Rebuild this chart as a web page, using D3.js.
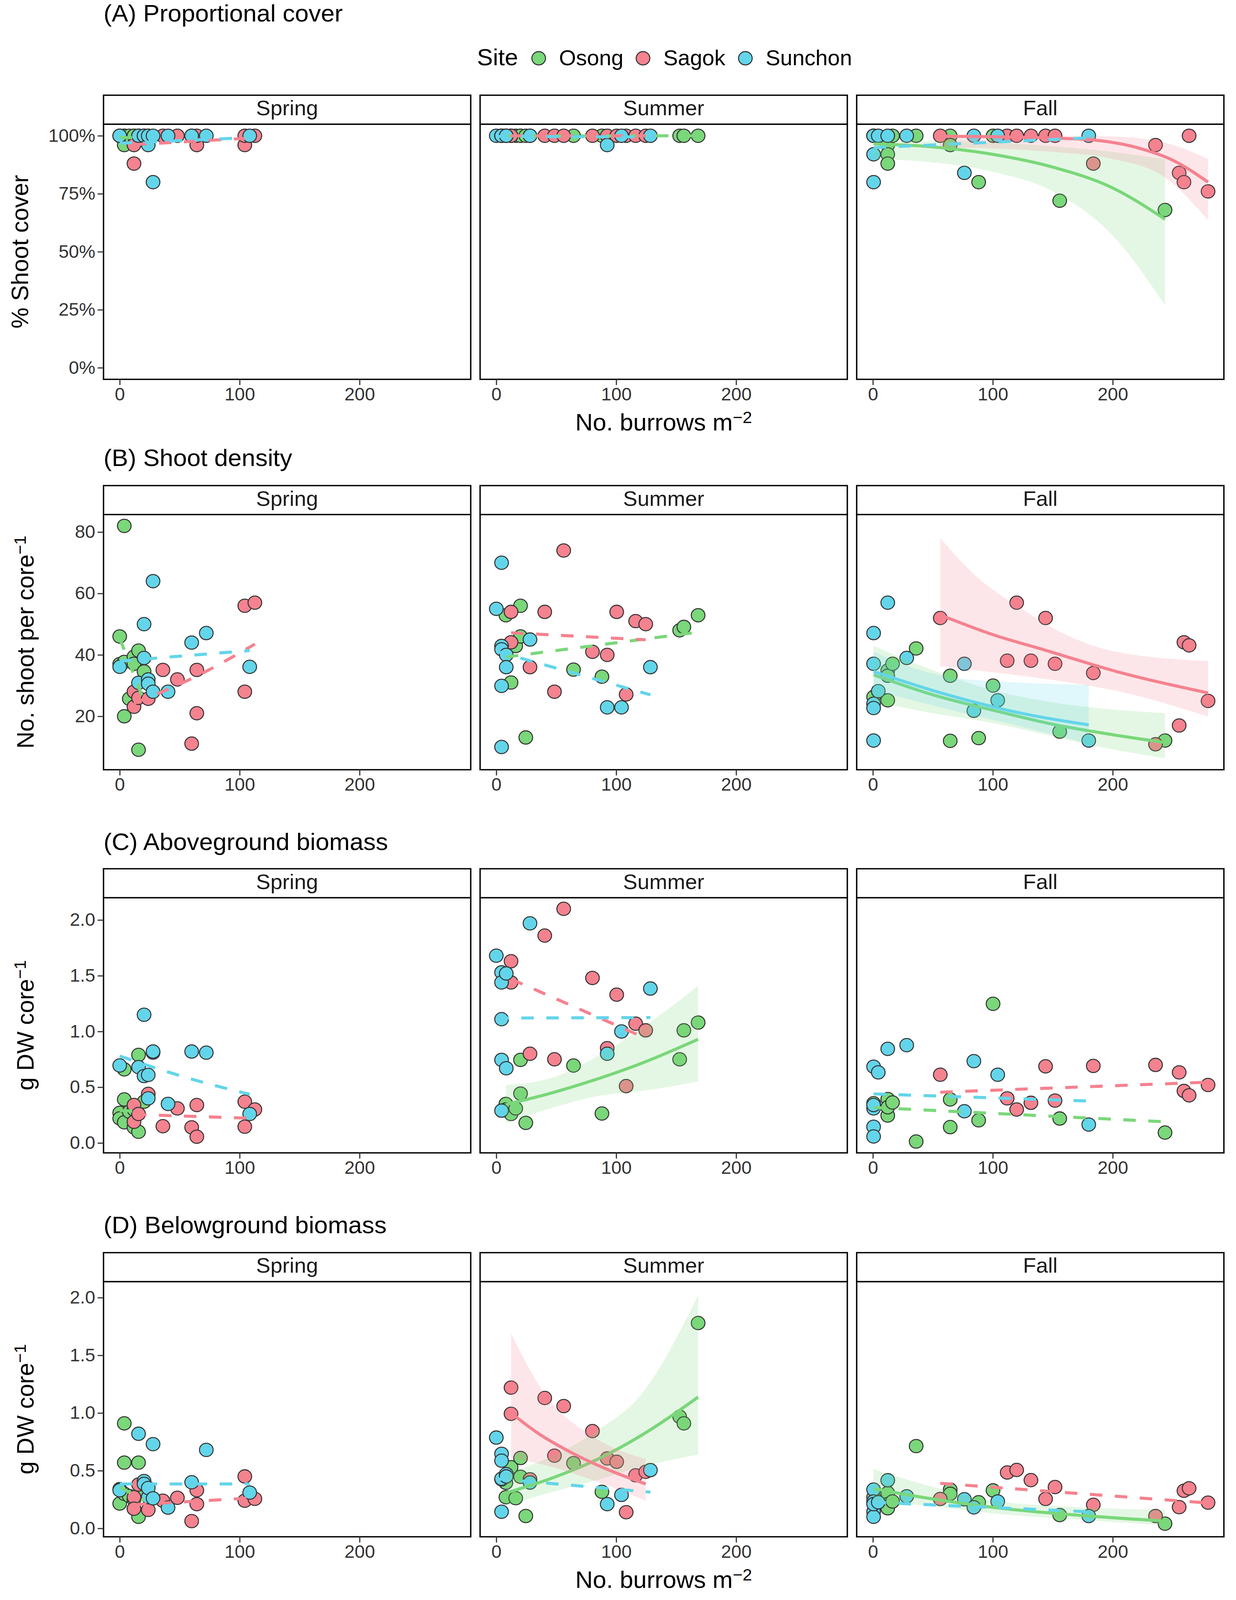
<!DOCTYPE html>
<html><head><meta charset="utf-8">
<script src="https://cdn.jsdelivr.net/npm/d3@7"></script>
<style>html,body{margin:0;padding:0;background:#fff;overflow:hidden} svg{display:block;width:100vw;height:100vh} text{font-family:"Liberation Sans",Arial,Helvetica,sans-serif}</style>
</head><body><svg id="chart" viewBox="0 0 3164 4201" preserveAspectRatio="none"></svg>
<script>
// ---------------- DATA ----------------
const seasons = ["Spring", "Summer", "Fall"];
const sites = ["Osong", "Sagok", "Sunchon"];
const rowTitles = ["(A) Proportional cover", "(B) Shoot density", "(C) Aboveground biomass", "(D) Belowground biomass"];
const burrowTicks = [0, 100, 200];
const coverTicks = [0, 0.25, 0.5, 0.75, 1];
const densityTicks = [20, 40, 60, 80];
const biomassTicks = [0, 0.5, 1, 1.5, 2];

// burrow densities (x) per season and site
const burrowsSpringOsong = [0, 0, 3.8, 3.8, 3.8, 8, 11.9, 11.9, 15.7, 15.7, 20.3];
const burrowsSpringSagok = [11.9, 11.9, 15.7, 23.8, 36, 48.1, 60, 64.3, 64.3, 104.3, 104.3, 112.7];
const burrowsSpringSunchon = [0, 15.7, 20.3, 20.3, 23.8, 23.8, 27.8, 27.8, 40.3, 60, 72.2, 108.4];
const burrowsSummerOsong = [8, 8, 12.3, 16.2, 20.2, 20.2, 24.6, 64.4, 88.1, 152.9, 156.4, 168.3];
const burrowsSummerSagok = [12.3, 12.3, 28.1, 40.4, 48.5, 56.2, 80.2, 92.5, 100.4, 108.3, 116.2, 124.6];
const burrowsSummerSunchon = [0, 4.4, 4.4, 4.4, 4.4, 4.4, 8.3, 8.3, 28.1, 92.5, 104.4, 128.5];
const burrowsFallOsong = [0.6, 12.4, 12.4, 12.4, 16.4, 36.1, 64.5, 64.5, 88.2, 100.2, 155.8, 243.6];
const burrowsFallSagok = [56.2, 112, 119.9, 131.8, 144, 151.9, 183.8, 235.7, 255.4, 259.4, 263.7, 279.5];
const burrowsFallSunchon = [0.6, 0.6, 0.6, 0.6, 0.6, 4.5, 12.4, 28.2, 76.3, 84.2, 104.1, 180];

// (A) proportional cover
const coverSpringOsong = [1, 1, 0.96, 1, 1, 1, 1, 1, 1, 1, 1];
const coverSpringSagok = [0.88, 0.96, 1, 1, 1, 1, 1, 0.96, 1, 0.96, 1, 1];
const coverSpringSunchon = [1, 1, 1, 1, 0.96, 1, 0.80, 1, 1, 1, 1, 1];
const coverSummerOsong = [1, 1, 1, 1, 1, 1, 1, 1, 1, 1, 1, 1];
const coverSummerSagok = [1, 1, 1, 1, 1, 1, 1, 1, 1, 1, 1, 1];
const coverSummerSunchon = [1, 1, 1, 1, 1, 1, 1, 1, 1, 0.96, 1, 1];
const coverFallOsong = [1, 0.96, 0.92, 0.88, 1, 1, 1, 0.96, 0.80, 1, 0.72, 0.68];
const coverFallSagok = [1, 1, 1, 1, 1, 1, 0.88, 0.96, 0.84, 0.80, 1, 0.76];
const coverFallSunchon = [1, 1, 1, 0.92, 0.80, 1, 1, 1, 0.84, 1, 1, 1];

// (B) shoot density
const densitySpringOsong = [46, 37, 82, 37.7, 20, 25.7, 39.4, 37.1, 41.4, 9.1, 34.6];
const densitySpringSagok = [28, 23.1, 26, 25.7, 35.1, 32, 11.1, 35.1, 21, 56, 28, 57];
const densitySpringSunchon = [36.1, 30.9, 50, 39, 32, 30.6, 64, 28, 28, 44, 47.1, 36.1];
const densitySummerOsong = [52.9, 42, 31, 42.9, 56, 46, 13.1, 35.2, 32.9, 48, 49.1, 52.9];
const densitySummerSagok = [54, 44.1, 36, 54, 28, 74, 41, 40, 54, 27.1, 51, 50];
const densitySummerSunchon = [55, 70, 42.9, 41.8, 29.9, 10, 40, 36, 45, 22.9, 22.9, 36];
const densityFallOsong = [26.3, 34.9, 33.2, 25.2, 37.1, 42.1, 33.2, 12.0, 12.9, 30.0, 15.0, 12.1];
const densityFallSagok = [52, 38.1, 57, 38.1, 52, 37.1, 34.1, 10.9, 17, 44.1, 43.1, 25];
const densityFallSunchon = [47.1, 37.1, 24.1, 22.7, 12.1, 28.2, 57, 39, 37.1, 21.8, 25.2, 12.1];

// (C) aboveground biomass
const aboveSpringOsong = [0.27, 0.22, 0.66, 0.39, 0.185, 0.28, 0.14, 0.30, 0.79, 0.10, 0.37];
const aboveSpringSagok = [0.34, 0.19, 0.26, 0.44, 0.15, 0.31, 0.14, 0.34, 0.056, 0.37, 0.146, 0.30];
const aboveSpringSunchon = [0.695, 0.68, 1.15, 0.60, 0.61, 0.40, 0.81, 0.82, 0.35, 0.82, 0.81, 0.26];
const aboveSummerOsong = [0.35, 0.30, 0.26, 0.31, 0.745, 0.443, 0.18, 0.694, 0.264, 0.75, 1.01, 1.08];
const aboveSummerSagok = [1.63, 1.44, 0.80, 1.86, 0.75, 2.10, 1.48, 0.85, 1.33, 0.51, 1.07, 1.01];
const aboveSummerSunchon = [1.68, 1.53, 1.44, 1.11, 0.745, 0.29, 1.52, 0.67, 1.97, 0.80, 1.0, 1.385];
const aboveFallOsong = [0.356, 0.394, 0.246, 0.32, 0.363, 0.013, 0.39, 0.142, 0.203, 1.248, 0.219, 0.093];
const aboveFallSagok = [0.612, 0.40, 0.30, 0.36, 0.687, 0.38, 0.691, 0.70, 0.633, 0.466, 0.427, 0.52];
const aboveFallSunchon = [0.684, 0.31, 0.145, 0.058, 0.34, 0.633, 0.844, 0.877, 0.284, 0.734, 0.612, 0.165];

// (D) belowground biomass
const belowSpringOsong = [0.34, 0.215, 0.91, 0.57, 0.30, 0.28, 0.17, 0.25, 0.57, 0.10, 0.30];
const belowSpringSagok = [0.27, 0.17, 0.38, 0.16, 0.24, 0.265, 0.063, 0.33, 0.21, 0.45, 0.24, 0.256];
const belowSpringSunchon = [0.33, 0.82, 0.41, 0.385, 0.27, 0.35, 0.73, 0.26, 0.18, 0.40, 0.68, 0.31];
const belowSummerOsong = [0.395, 0.27, 0.53, 0.262, 0.61, 0.447, 0.107, 0.565, 0.317, 0.968, 0.91, 1.78];
const belowSummerSagok = [1.22, 0.993, 0.425, 1.13, 0.63, 1.06, 0.843, 0.606, 0.577, 0.14, 0.46, 0.49];
const belowSummerSunchon = [0.787, 0.646, 0.587, 0.425, 0.43, 0.144, 0.47, 0.45, 0.397, 0.21, 0.29, 0.505];
const belowFallOsong = [0.27, 0.307, 0.21, 0.174, 0.233, 0.713, 0.336, 0.30, 0.226, 0.329, 0.115, 0.041];
const belowFallSagok = [0.255, 0.484, 0.506, 0.418, 0.255, 0.358, 0.204, 0.107, 0.184, 0.326, 0.347, 0.223];
const belowFallSunchon = [0.336, 0.233, 0.144, 0.10, 0.21, 0.226, 0.417, 0.278, 0.252, 0.182, 0.233, 0.107];

// fitted trend lines [x, y] and confidence bands [x, lower, upper]
const fitCoverSpringOsong = [[0, 0.993], [20.3, 0.99]];
const fitCoverSpringSagok = [[11.9, 0.962], [112.7, 0.991]];
const fitCoverSpringSunchon = [[0, 0.968], [108.4, 0.992]];
const fitCoverSummerOsong = [[8, 0.999], [168.3, 1.0]];
const fitCoverSummerSagok = [[12.3, 1.0], [124.6, 1.0]];
const fitCoverSummerSunchon = [[0, 0.997], [128.5, 0.995]];
const fitCoverFallOsong = [[0.6, 0.965], [50, 0.952], [100, 0.92], [150, 0.865], [200, 0.775], [243.6, 0.64]];
const bandCoverFallOsong = [[0.6, 0.90, 0.975], [50, 0.885, 0.978], [100, 0.845, 0.97], [150, 0.76, 0.955], [200, 0.57, 0.93], [243.6, 0.27, 0.898]];
const fitCoverFallSagok = [[56.2, 0.998], [100, 0.996], [150, 0.99], [183, 0.982], [223, 0.945], [250, 0.895], [279.5, 0.80]];
const bandCoverFallSagok = [[56.2, 0.95, 1.0], [100, 0.945, 1.0], [150, 0.93, 1.0], [200, 0.9, 0.997], [243.6, 0.82, 0.97], [279.5, 0.636, 0.90]];
const fitCoverFallSunchon = [[0.6, 0.949], [180, 0.991]];

const fitDensitySpringOsong = [[0, 45.4], [20.3, 25]];
const fitDensitySpringSagok = [[11.9, 24.2], [63.8, 33.0], [112.7, 43.5]];
const fitDensitySpringSunchon = [[0, 38], [108.4, 41.4]];
const fitDensitySummerOsong = [[8, 39.3], [168.3, 47.4]];
const fitDensitySummerSagok = [[12.3, 47.2], [124.6, 44.9]];
const fitDensitySummerSunchon = [[0, 41.2], [128.5, 27.0]];
const fitDensityFallOsong = [[0.6, 33.5], [50, 27], [100, 22], [150, 17.4], [200, 14], [243.6, 11.45]];
const bandDensityFallOsong = [[0.6, 24.9, 43], [50, 21, 35], [100, 17.8, 28.5], [150, 13.5, 24.5], [180, 10.8, 23], [243.6, 6.3, 21]];
const fitDensityFallSagok = [[56.2, 53], [100, 46.6], [144, 41.5], [203, 34.6], [279.5, 27.6]];
const bandDensityFallSagok = [[56.2, 36.3, 78], [85, 35.0, 66], [124, 33.2, 55], [164, 31, 46], [203, 28.3, 41], [279.5, 19.9, 38]];
const fitDensityFallSunchon = [[0.6, 34.6], [50, 28.4], [84.8, 24.6], [130, 20.5], [180, 17.2]];
const bandDensityFallSunchon = [[0.6, 28.5, 41], [40, 24.5, 35], [65, 22, 32.7], [120, 17, 31], [180, 11, 30.2]];

const fitAboveSpringOsong = [[0, 0.29], [20.3, 0.285]];
const fitAboveSpringSagok = [[11.9, 0.256], [112.7, 0.22]];
const fitAboveSpringSunchon = [[0, 0.78], [56, 0.585], [108.4, 0.436]];
const fitAboveSummerOsong = [[8, 0.345], [45, 0.445], [84.6, 0.575], [120, 0.71], [168.3, 0.93]];
const bandAboveSummerOsong = [[8, 0.18, 0.52], [45, 0.31, 0.58], [84.6, 0.42, 0.78], [124, 0.47, 1.05], [168.3, 0.55, 1.41]];
const fitAboveSummerSagok = [[12.3, 1.47], [124.6, 0.94]];
const fitAboveSummerSunchon = [[0, 1.12], [128.5, 1.125]];
const fitAboveFallOsong = [[0.6, 0.318], [243.6, 0.19]];
const fitAboveFallSagok = [[56.2, 0.455], [279.5, 0.545]];
const fitAboveFallSunchon = [[0.6, 0.44], [180, 0.376]];

const fitBelowSpringOsong = [[0, 0.36], [20.3, 0.24]];
const fitBelowSpringSagok = [[11.9, 0.205], [112.7, 0.265]];
const fitBelowSpringSunchon = [[0, 0.385], [108.4, 0.385]];
const fitBelowSummerOsong = [[8, 0.307], [45, 0.43], [84.6, 0.6], [120, 0.8], [168.3, 1.138]];
const bandBelowSummerOsong = [[8, 0.2, 0.47], [45, 0.31, 0.62], [84.6, 0.42, 0.85], [120, 0.53, 1.15], [168.3, 0.64, 2.02]];
const fitBelowSummerSagok = [[12.3, 1.0], [35, 0.823], [64.8, 0.645], [100, 0.48], [124.6, 0.385]];
const bandBelowSummerSagok = [[12.3, 0.61, 1.69], [40, 0.55, 1.17], [80, 0.42, 0.8], [124.6, 0.24, 0.6]];
const fitBelowSummerSunchon = [[0, 0.43], [128.5, 0.314]];
const fitBelowFallOsong = [[0.6, 0.344], [45.4, 0.262], [100.2, 0.182], [180, 0.107], [243.6, 0.063]];
const bandBelowFallOsong = [[0.6, 0.24, 0.513], [50, 0.19, 0.36], [100.2, 0.13, 0.24], [180, 0.07, 0.18], [243.6, 0.026, 0.16]];
const fitBelowFallSagok = [[56.2, 0.39], [279.5, 0.22]];
const fitBelowFallSunchon = [[0.6, 0.226], [180, 0.144]];

// ---------------- tables built from the arrays ----------------
const burrows = {
  Spring: [burrowsSpringOsong, burrowsSpringSagok, burrowsSpringSunchon],
  Summer: [burrowsSummerOsong, burrowsSummerSagok, burrowsSummerSunchon],
  Fall: [burrowsFallOsong, burrowsFallSagok, burrowsFallSunchon]
};
const rows = [
  { values: { Spring: [coverSpringOsong, coverSpringSagok, coverSpringSunchon], Summer: [coverSummerOsong, coverSummerSagok, coverSummerSunchon], Fall: [coverFallOsong, coverFallSagok, coverFallSunchon] },
    fits: { Spring: [fitCoverSpringOsong, fitCoverSpringSagok, fitCoverSpringSunchon], Summer: [fitCoverSummerOsong, fitCoverSummerSagok, fitCoverSummerSunchon], Fall: [fitCoverFallOsong, fitCoverFallSagok, fitCoverFallSunchon] },
    bands: { Spring: [null, null, null], Summer: [null, null, null], Fall: [bandCoverFallOsong, bandCoverFallSagok, null] },
    domain: [-0.05, 1.05], ticks: coverTicks, fmt: d3.format(".0%") },
  { values: { Spring: [densitySpringOsong, densitySpringSagok, densitySpringSunchon], Summer: [densitySummerOsong, densitySummerSagok, densitySummerSunchon], Fall: [densityFallOsong, densityFallSagok, densityFallSunchon] },
    fits: { Spring: [fitDensitySpringOsong, fitDensitySpringSagok, fitDensitySpringSunchon], Summer: [fitDensitySummerOsong, fitDensitySummerSagok, fitDensitySummerSunchon], Fall: [fitDensityFallOsong, fitDensityFallSagok, fitDensityFallSunchon] },
    bands: { Spring: [null, null, null], Summer: [null, null, null], Fall: [bandDensityFallOsong, bandDensityFallSagok, bandDensityFallSunchon] },
    domain: [2.6, 85.7], ticks: densityTicks, fmt: d3.format("d") },
  { values: { Spring: [aboveSpringOsong, aboveSpringSagok, aboveSpringSunchon], Summer: [aboveSummerOsong, aboveSummerSagok, aboveSummerSunchon], Fall: [aboveFallOsong, aboveFallSagok, aboveFallSunchon] },
    fits: { Spring: [fitAboveSpringOsong, fitAboveSpringSagok, fitAboveSpringSunchon], Summer: [fitAboveSummerOsong, fitAboveSummerSagok, fitAboveSummerSunchon], Fall: [fitAboveFallOsong, fitAboveFallSagok, fitAboveFallSunchon] },
    bands: { Spring: [null, null, null], Summer: [bandAboveSummerOsong, null, null], Fall: [null, null, null] },
    domain: [-0.089, 2.2], ticks: biomassTicks, fmt: d3.format(".1f") },
  { values: { Spring: [belowSpringOsong, belowSpringSagok, belowSpringSunchon], Summer: [belowSummerOsong, belowSummerSagok, belowSummerSunchon], Fall: [belowFallOsong, belowFallSagok, belowFallSunchon] },
    fits: { Spring: [fitBelowSpringOsong, fitBelowSpringSagok, fitBelowSpringSunchon], Summer: [fitBelowSummerOsong, fitBelowSummerSagok, fitBelowSummerSunchon], Fall: [fitBelowFallOsong, fitBelowFallSagok, fitBelowFallSunchon] },
    bands: { Spring: [null, null, null], Summer: [bandBelowSummerOsong, bandBelowSummerSagok, null], Fall: [bandBelowFallOsong, null, null] },
    domain: [-0.073, 2.139], ticks: biomassTicks, fmt: d3.format(".1f") }
];

// ---------------- STYLE / LAYOUT ----------------
const W = 3164, H = 4201;
const siteColors = ["#7ad77a", "#f5828f", "#63d5ea"];
const panelLeft0 = 265, panelW = 940, panelGap = 24, plotH = 670, stripH = 76;
const rowPlotTop = [326, 1351, 2357, 3365];
const rowTitleBase = [56, 1224, 2232, 3238];
const yTitleX = [72, 86, 86, 86];
const xDomain = [-13.5, 292.7];
const tickFont = 47, titleFont = 63, axisTitleFont = 62, stripFont = 55;

const svg = d3.select("#chart");
svg.append("rect").attr("width", W).attr("height", H).attr("fill", "#fff");

const x = d3.scaleLinear().domain(xDomain).range([0, panelW]);
const lineGen = (y) => d3.line().x(d => x(d[0])).y(d => y(d[1])).curve(d3.curveMonotoneX);
const areaGen = (y) => d3.area().x(d => x(d[0])).y0(d => y(d[1])).y1(d => y(d[2])).curve(d3.curveMonotoneX);

// legend
const leg = svg.append("g");
leg.append("text").attr("x", 1221).attr("y", 171).attr("font-size", 61).attr("fill", "#000").text("Site");
const legKeyX = [1379, 1646, 1908];
sites.forEach((s, k) => {
  leg.append("circle").attr("cx", legKeyX[k]).attr("cy", 153).attr("r", 17.5)
    .attr("fill", siteColors[k]).attr("stroke", "#333").attr("stroke-width", 2.6);
  leg.append("text").attr("x", legKeyX[k] + 52).attr("y", 171).attr("font-size", 56).attr("fill", "#000").text(s);
});

rows.forEach((row, ri) => {
  const top = rowPlotTop[ri];
  const y = d3.scaleLinear().domain(row.domain).range([plotH, 0]);

  svg.append("text").attr("x", 265).attr("y", rowTitleBase[ri]).attr("font-size", titleFont).attr("fill", "#000").text(rowTitles[ri]);

  // y title
  const yt = svg.append("text").attr("transform", `translate(${yTitleX[ri]},${top + plotH / 2}) rotate(-90)`)
    .attr("text-anchor", "middle").attr("font-size", axisTitleFont).attr("fill", "#000");
  if (ri === 0) yt.text("% Shoot cover");
  else {
    yt.append("tspan").text(ri === 1 ? "No. shoot per core" : "g DW core");
    yt.append("tspan").attr("dy", "-0.45em").attr("font-size", "70%").text("\u22121");
  }

  seasons.forEach((season, si) => {
    const left = panelLeft0 + si * (panelW + panelGap);
    const g = svg.append("g").attr("transform", `translate(${left},${top})`);
    const cid = `clip-${ri}-${si}`;
    g.append("clipPath").attr("id", cid).append("rect").attr("width", panelW).attr("height", plotH);
    const body = g.append("g").attr("clip-path", `url(#${cid})`);

    // points
    sites.forEach((site, k) => {
      const pts = d3.zip(burrows[season][k], row.values[season][k]);
      body.append("g").selectAll("circle").data(pts).join("circle")
        .attr("cx", d => x(d[0])).attr("cy", d => y(d[1])).attr("r", 17.5)
        .attr("fill", siteColors[k]).attr("stroke", "#333").attr("stroke-width", 2.6);
    });
    // smooths
    sites.forEach((site, k) => {
      const band = row.bands[season][k];
      if (band) body.append("path").datum(band).attr("d", areaGen(y)).attr("fill", siteColors[k]).attr("fill-opacity", 0.2);
      const fit = row.fits[season][k];
      body.append("path").datum(fit).attr("d", lineGen(y)).attr("fill", "none")
        .attr("stroke", siteColors[k]).attr("stroke-width", 8)
        .attr("stroke-dasharray", band ? null : "32,32").attr("stroke-linecap", "butt");
    });

    // border
    g.append("rect").attr("width", panelW).attr("height", plotH).attr("fill", "none").attr("stroke", "#000").attr("stroke-width", 3.5);

    // x axis
    const xa = g.append("g").attr("transform", `translate(0,${plotH})`)
      .call(d3.axisBottom(x).tickValues(burrowTicks).tickSize(15).tickPadding(7).tickFormat(d3.format("d")));
    xa.select(".domain").remove();
    xa.selectAll(".tick line").attr("stroke", "#333").attr("stroke-width", 3);
    xa.selectAll(".tick text").attr("font-size", tickFont).attr("fill", "#333").attr("font-family", "Liberation Sans, Arial, sans-serif");

    if (si === 0) {
      const ya = g.append("g").call(d3.axisLeft(y).tickValues(row.ticks).tickSize(15).tickPadding(6).tickFormat(row.fmt));
      ya.select(".domain").remove();
      ya.selectAll(".tick line").attr("stroke", "#333").attr("stroke-width", 3);
      ya.selectAll(".tick text").attr("font-size", tickFont).attr("fill", "#333").attr("font-family", "Liberation Sans, Arial, sans-serif");
    }

    // strip
    g.append("rect").attr("y", -stripH).attr("width", panelW).attr("height", stripH)
      .attr("fill", "#fff").attr("stroke", "#000").attr("stroke-width", 3.5);
    g.append("text").attr("x", panelW / 2).attr("y", -stripH + 53).attr("text-anchor", "middle")
      .attr("font-size", stripFont).attr("fill", "#1a1a1a").text(season);
  });

  // x axis title for first and last row
  if (ri === 0 || ri === 3) {
    const xt = svg.append("text").attr("x", 1699).attr("y", top + plotH + 134).attr("text-anchor", "middle")
      .attr("font-size", axisTitleFont).attr("fill", "#000");
    xt.append("tspan").text("No. burrows m");
    xt.append("tspan").attr("dy", "-0.45em").attr("font-size", "70%").text("\u22122");
  }
});
</script></body></html>
